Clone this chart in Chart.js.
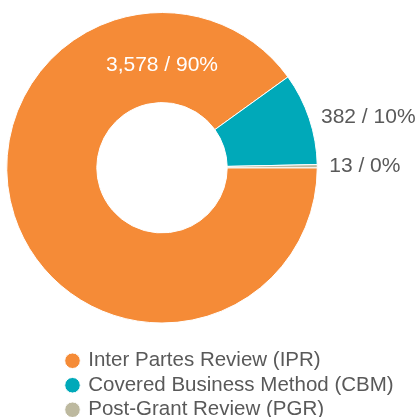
<!DOCTYPE html>
<html>
<head>
<meta charset="utf-8">
<script src="https://cdn.jsdelivr.net/npm/chart.js@4/dist/chart.umd.min.js"></script>
<style>
  html, body { margin: 0; padding: 0; background: #fff; }
  #wrap { width: 417px; height: 417px; }
</style>
</head>
<body>
<div id="wrap"><canvas id="chart"></canvas></div>
<script>
const categories = ["Inter Partes Review (IPR)", "Covered Business Method (CBM)", "Post-Grant Review (PGR)"];
const counts = [3578, 382, 13];
const colors = ["#f58b37", "#00a9b9", "#bdb99f"];

const total = counts.reduce((a, b) => a + b, 0);
const labelFont = "21px 'Liberation Sans', Arial, sans-serif";

// "count / pct%" labels: big slice inside the ring, small ones outside
const sliceLabels = {
  id: "sliceLabels",
  afterDatasetsDraw(chart) {
    const ctx = chart.ctx;
    const arcs = chart.getDatasetMeta(0).data;
    ctx.save();
    ctx.font = labelFont;
    ctx.textBaseline = "middle";
    arcs.forEach((arc, i) => {
      const { x, y, startAngle, endAngle, outerRadius } =
        arc.getProps(["x", "y", "startAngle", "endAngle", "outerRadius"], true);
      const text = counts[i].toLocaleString("en-US") + " / " + Math.round(counts[i] / total * 100) + "%";
      if (endAngle - startAngle > Math.PI) {
        ctx.fillStyle = "#fff";
        ctx.textAlign = "center";
        ctx.fillText(text, x, y - outerRadius * 0.66);
      } else {
        const mid = (startAngle + endAngle) / 2;
        const r = outerRadius + 5;
        ctx.fillStyle = "#595959";
        ctx.textAlign = "left";
        ctx.fillText(text, x + Math.cos(mid) * r + 7, y + Math.sin(mid) * r);
      }
    });
    ctx.restore();
  }
};

// legend block sits left-aligned under the chart, a bit lower than default
const legendPlace = {
  id: "legendPlace",
  afterLayout(chart) {
    const lg = chart.legend;
    if (!lg) return;
    lg.left = 63;
    lg.right = chart.width;
    lg.top += 23;
    lg.bottom = chart.height;
    lg.width = lg.right - lg.left;
    lg.height = lg.bottom - lg.top;
  }
};

new Chart(document.getElementById("chart"), {
  type: "doughnut",
  data: {
    labels: categories,
    datasets: [
      {
        data: counts,
        backgroundColor: colors,
        borderColor: "#fff",
        borderWidth: 1,
        hoverBorderWidth: 1,
        hoverOffset: 0
      }
    ]
  },
  options: {
    responsive: true,
    maintainAspectRatio: false,
    animation: false,
    rotation: 90,
    cutout: "42%",
    layout: { padding: { top: 12, right: 93, bottom: 10, left: 0 } },
    plugins: {
      legend: {
        position: "bottom",
        align: "start",
        labels: {
          usePointStyle: true,
          pointStyle: "circle",
          boxWidth: 11,
          boxHeight: 11,
          padding: 4,
          color: "#595959",
          font: { family: "'Liberation Sans', Arial, sans-serif", size: 20.5 }
        }
      },
      tooltip: { enabled: false }
    }
  },
  plugins: [sliceLabels, legendPlace]
});
</script>
</body>
</html>
